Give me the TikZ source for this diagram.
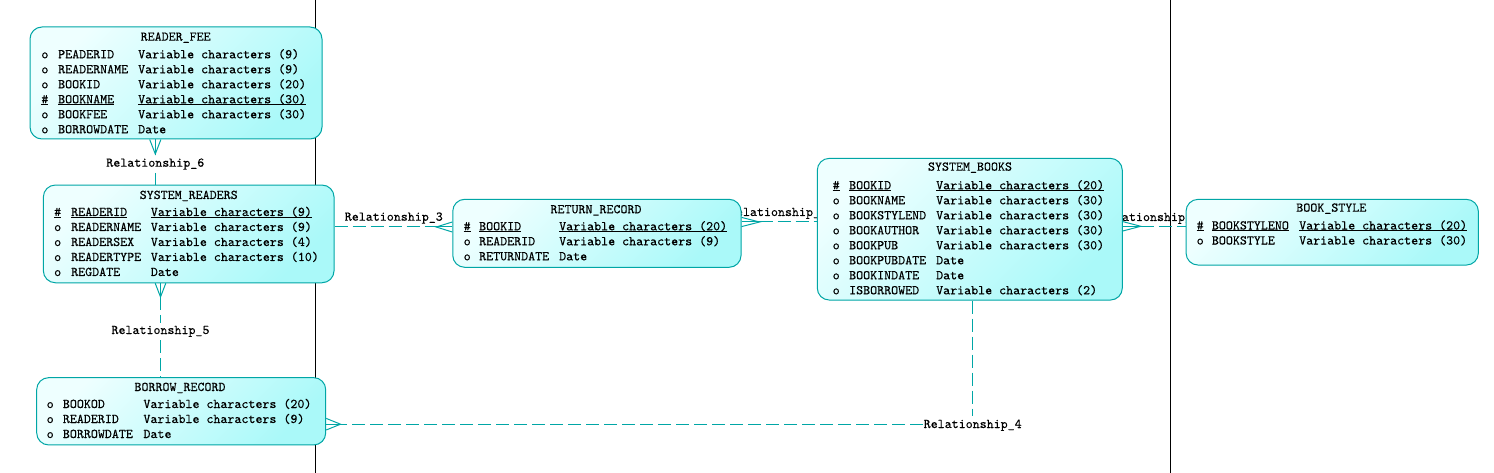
\documentclass[tikz,border=0pt]{standalone}
\usepackage{fontspec}
\newfontfamily\erfont{lmmono10-regular.otf}[FakeBold=0.2]
\usetikzlibrary{calc}
\definecolor{erline}{RGB}{0,166,166}
\definecolor{boxL}{RGB}{238,255,255}
\definecolor{boxR}{RGB}{170,249,249}
\newsavebox\erulbox
\newcommand\erul[1]{\sbox\erulbox{#1}\rlap{\rule[-1.7pt]{\wd\erulbox}{0.8pt}}\usebox\erulbox}
\newcommand\ermx{0}\newcommand\ernx{0}\newcommand\ertx{0}
\newcommand\ersetcols[3]{\renewcommand\ermx{#1}\renewcommand\ernx{#2}\renewcommand\ertx{#3}}
\newcommand\erow[5]{\node[attr] (#1) at (\ermx,#2) {\makebox[\dimexpr\ernx pt-\ermx pt\relax][l]{#3}\makebox[\dimexpr\ertx pt-\ernx pt\relax][l]{#4}#5};}
\newcommand\ercrow[3]{\draw[rel] ($(#1)+(#3)$) -- ($(#1)+(#2)$) -- ($(#1)-(#3)$);
  \draw[rel] (#1) -- ($(#1)+(#2)$);}
\tikzset{
  erfnt/.style={font=\erfont\fontsize{13.33}{16}\selectfont},
  entity/.style={draw=erline, line width=1pt, rounded corners=12pt, top color=boxL, bottom color=boxR, shading angle=45, inner sep=0pt},
  attr/.style={erfnt, anchor=base west, inner sep=0pt},
  ttl/.style={erfnt, anchor=base, inner sep=0pt},
  lbl/.style={erfnt, anchor=base, inner xsep=0.5pt, inner ysep=3pt},
  rel/.style={draw=erline, line width=1pt},
  reld/.style={rel, dash pattern=on 13pt off 5pt},
  pageline/.style={draw=black, line width=1pt}
}
\begin{document}
\begin{tikzpicture}[x=1pt,y=-1pt]
\fill[white] (0,0) rectangle (1494,473);
\useasboundingbox (0,0) rectangle (1494,473);
% page boundaries
\coordinate (v1t) at (315,0); \coordinate (v1b) at (315,473);
\coordinate (v2t) at (1170.5,0); \coordinate (v2b) at (1170.5,473);
\draw[pageline] (v1t) -- (v1b);
\draw[pageline] (v2t) -- (v2b);
% labels partly hidden under the entities
\node[lbl] (r1) at (778,216) {Relationship\_1};
\node[lbl] (r2) at (1150,221) {Relationship\_2};
% READER_FEE
\node[entity, minimum width=292pt, minimum height=112pt] (rf) at (176,83) {};
\node[ttl] (rf-t) at (175.7,40.7) {READER\_FEE};
\ersetcols{41.2}{58}{138}
\erow{rf-1}{58.3}{o}{PEADERID}{Variable characters (9)}
\erow{rf-2}{73.3}{o}{READERNAME}{Variable characters (9)}
\erow{rf-3}{88.3}{o}{BOOKID}{Variable characters (20)}
\erow{rf-4}{103.3}{\erul{\#}}{\erul{BOOKNAME}}{\erul{Variable characters (30)}}
\erow{rf-5}{118.3}{o}{BOOKFEE}{Variable characters (30)}
\erow{rf-6}{133.3}{o}{BORROWDATE}{Date}
% SYSTEM_READERS
\node[entity, minimum width=290.7pt, minimum height=97.7pt] (sr) at (188.7,233.9) {};
\node[ttl] (sr-t) at (188.7,199) {SYSTEM\_READERS};
\ersetcols{54}{71}{150.7}
\erow{sr-1}{216}{\erul{\#}}{\erul{READERID}}{\erul{Variable characters (9)}}
\erow{sr-2}{231}{o}{READERNAME}{Variable characters (9)}
\erow{sr-3}{246}{o}{READERSEX}{Variable characters (4)}
\erow{sr-4}{261}{o}{READERTYPE}{Variable characters (10)}
\erow{sr-5}{276}{o}{REGDATE}{Date}
% RETURN_RECORD
\node[entity, minimum width=288.3pt, minimum height=68pt] (rr) at (596.9,233.3) {};
\node[ttl] (rr-t) at (596,213.3) {RETURN\_RECORD};
\ersetcols{463.5}{479}{559}
\erow{rr-1}{230.3}{\erul{\#}}{\erul{BOOKID}}{\erul{Variable characters (20)}}
\erow{rr-2}{245.3}{o}{READERID}{Variable characters (9)}
\erow{rr-3}{260.3}{o}{RETURNDATE}{Date}
% SYSTEM_BOOKS
\node[entity, minimum width=305pt, minimum height=141.7pt] (sb) at (969.8,229.2) {};
\node[ttl] (sb-t) at (970,170.7) {SYSTEM\_BOOKS};
\ersetcols{832.5}{849}{936}
\erow{sb-1}{189.3}{\erul{\#}}{\erul{BOOKID}}{\erul{Variable characters (20)}}
\erow{sb-2}{204.3}{o}{BOOKNAME}{Variable characters (30)}
\erow{sb-3}{219.3}{o}{BOOKSTYLEND}{Variable characters (30)}
\erow{sb-4}{234.3}{o}{BOOKAUTHOR}{Variable characters (30)}
\erow{sb-5}{249.3}{o}{BOOKPUB}{Variable characters (30)}
\erow{sb-6}{264.3}{o}{BOOKPUBDATE}{Date}
\erow{sb-7}{279.3}{o}{BOOKINDATE}{Date}
\erow{sb-8}{294.3}{o}{ISBORROWED}{Variable characters (2)}
% BOOK_STYLE
\node[entity, minimum width=292.3pt, minimum height=65.7pt] (bs) at (1332.2,232.2) {};
\node[ttl] (bs-t) at (1331.3,211.7) {BOOK\_STYLE};
\ersetcols{1196.5}{1211.7}{1299}
\erow{bs-1}{229.5}{\erul{\#}}{\erul{BOOKSTYLENO}}{\erul{Variable characters (20)}}
\erow{bs-2}{244.5}{o}{BOOKSTYLE}{Variable characters (30)}
% BORROW_RECORD
\node[entity, minimum width=289pt, minimum height=67.3pt] (br) at (181.2,411.3) {};
\node[ttl] (br-t) at (180,391) {BORROW\_RECORD};
\ersetcols{46.5}{62.7}{143.3}
\erow{br-1}{408}{o}{BOOKOD}{Variable characters (20)}
\erow{br-2}{423}{o}{READERID}{Variable characters (9)}
\erow{br-3}{438}{o}{BORROWDATE}{Date}
% relationship labels
\node[lbl] (r6) at (155.3,166.7) {Relationship\_6};
\node[lbl] (r3) at (393.8,220.7) {Relationship\_3};
\node[lbl] (r5) at (160.5,334) {Relationship\_5};
\node[lbl] (r4) at (972.7,428) {Relationship\_4};
% connector levels
\coordinate (y1) at (0,222);
\coordinate (y2) at (0,226.3);
\coordinate (y3) at (0,227);
\coordinate (y4) at (0,424.2);
% Relationship_6
\coordinate (e6) at (rf.south -| r6);
\ercrow{e6}{0,14.5}{5.6,0}
\draw[rel] (e6) -- (r6.north);
\draw[rel] (r6.south) -- (sr.north -| r6);
% Relationship_5
\coordinate (e5) at (sr.south -| r5);
\ercrow{e5}{0,13.7}{5.3,0}
\draw[reld] ($(e5)+(0,13.7)$) -- (r5.north);
\draw[reld] (r5.south) -- (br.north -| r5);
% Relationship_3
\coordinate (e3) at (rr.west |- y3);
\ercrow{e3}{-16,0}{0,5}
\draw[reld] (sr.east |- y3) -- ($(e3)+(-16,0)$);
% Relationship_1
\coordinate (e1) at (rr.east |- y1);
\ercrow{e1}{18,0}{0,4.6}
\draw[reld] ($(e1)+(18,0)$) -- (sb.west |- y1);
% Relationship_2
\coordinate (e2) at (sb.east |- y2);
\ercrow{e2}{18,0}{0,4.7}
\draw[reld] ($(e2)+(18,0)$) -- (bs.west |- y2);
% Relationship_4
\coordinate (e4) at (br.east |- y4);
\ercrow{e4}{14.3,0}{0,5.8}
\draw[reld] (sb.south -| r4) -- (r4.north);
\draw[reld] (r4.west |- y4) -- ($(e4)+(14.3,0)$);
\end{tikzpicture}
\end{document}
